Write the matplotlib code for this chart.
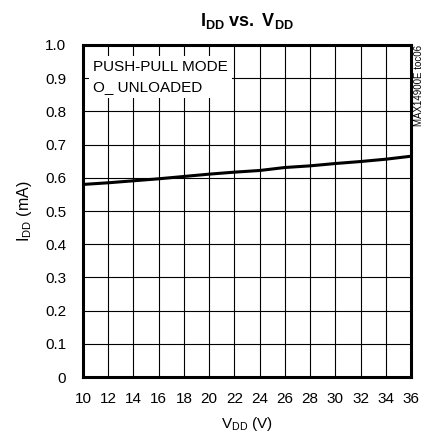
import matplotlib
matplotlib.use("Agg")
import matplotlib.pyplot as plt

plt.rcParams['font.family'] = ['Liberation Sans', 'DejaVu Sans']
plt.rcParams['mathtext.fontset'] = 'custom'
plt.rcParams['mathtext.rm'] = 'Liberation Sans'
plt.rcParams['mathtext.it'] = 'Liberation Sans'
plt.rcParams['mathtext.bf'] = 'Liberation Sans:bold'

# valores
vdd = [10, 12, 14, 16, 18, 20, 22, 24, 26, 28, 30, 32, 34, 36]
idd = [0.580, 0.585, 0.591, 0.597, 0.604, 0.611, 0.617, 0.622, 0.631, 0.636, 0.643, 0.649, 0.656, 0.665]

xticks = list(range(10, 37, 2))
yticks = [0, 0.1, 0.2, 0.3, 0.4, 0.5, 0.6, 0.7, 0.8, 0.9, 1.0]
ylabels = ['0', '0.1', '0.2', '0.3', '0.4', '0.5', '0.6', '0.7', '0.8', '0.9', '1.0']

fig = plt.figure(figsize=(4.25, 4.36), dpi=100)
ax = fig.add_axes([83/425, 59/436, 328/425, 332/436])

ax.plot(vdd, idd, color='black', linewidth=2.2, zorder=3)

ax.set_xlim(10, 36)
ax.set_ylim(0, 1.0)
ax.set_xticks(xticks)
ax.set_yticks(yticks)
ax.set_yticklabels(ylabels)
ax.grid(True, color='black', linewidth=0.8)
ax.tick_params(length=0, labelsize=11)
ax.tick_params(axis='x', pad=11)
ax.tick_params(axis='y', pad=12)
for s in ax.spines.values():
    s.set_linewidth(2.2)

ax.set_title(r'$\mathbf{I_{DD}\ vs.\ V_{DD}}$', fontsize=13, pad=14)
ax.set_xlabel(r'$\mathrm{V_{DD}\ (V)}$', fontsize=11, labelpad=6)
ax.set_ylabel(r'$\mathrm{I_{DD}\ (mA)}$', fontsize=11.5, labelpad=8)

ax.text(0.03, 0.955, 'PUSH-PULL MODE\nO_ UNLOADED', transform=ax.transAxes,
        fontsize=11, va='top', ha='left', linespacing=1.55, zorder=4,
        bbox=dict(facecolor='white', edgecolor='none', pad=3))

fig.text(419/425, 1 - 45/436, 'MAX14900E toc06', rotation=90, fontsize=7,
         ha='center', va='top')

fig.savefig('out.png', dpi=100)
